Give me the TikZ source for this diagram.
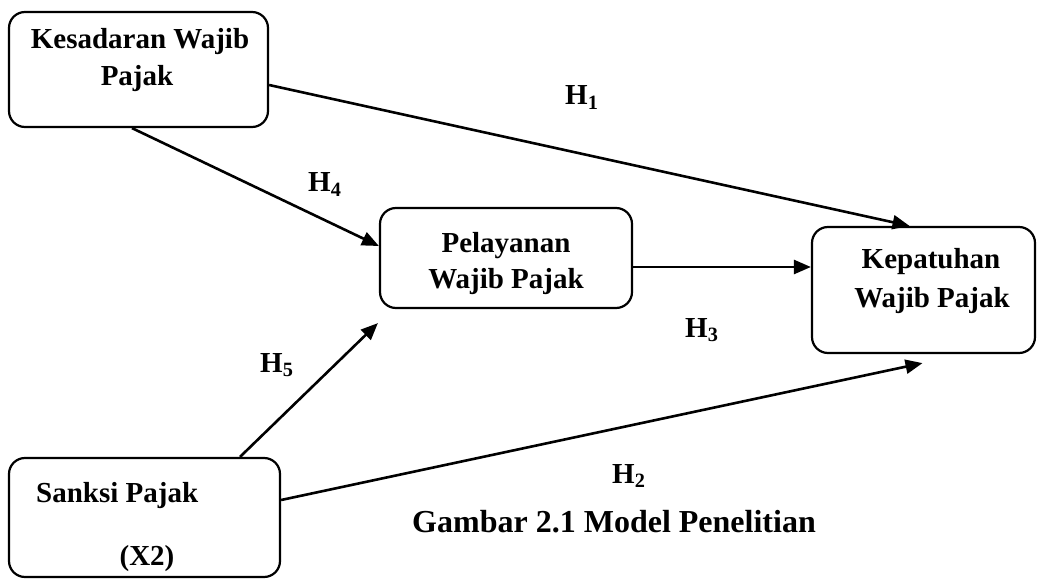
\documentclass[tikz,border=0pt]{standalone}
\usepackage{fontspec}
\setmainfont{Liberation Serif}
\usetikzlibrary{arrows.meta}
\begin{document}
\begin{tikzpicture}[x=1pt,y=-1pt,
  box/.style={draw, line width=2.2pt, rounded corners=16pt, inner sep=0pt},
  txt/.style={font=\fontsize{29}{33}\selectfont\bfseries, inner sep=0pt, anchor=base},
  hlab/.style={font=\fontsize{29}{33}\selectfont\bfseries, inner sep=0pt, anchor=base west},
  captiontext/.style={font=\fontsize{32}{36}\selectfont\bfseries, inner sep=0pt, anchor=base},
  arr/.style={line width=2.6pt, -{Triangle[length=17pt,width=14pt]}}]
\useasboundingbox (0,0) rectangle (1038,580);
% boxes
\node[box, minimum width=259pt, minimum height=115pt] (kes) at (138.5,69.5) {};
\node[box, minimum width=252pt, minimum height=100pt] (pel) at (506,258) {};
\node[box, minimum width=223pt, minimum height=126pt] (kep) at (923.5,290) {};
\node[box, minimum width=271pt, minimum height=119pt] (san) at (144.5,517.5) {};
% box texts
\node[txt] (kesA) at (140,49) {Kesadaran Wajib};
\node[txt] (kesB) at (137,86) {Pajak};
\node[txt] (pelA) at (506,252) {Pelayanan};
\node[txt] (pelB) at (506,288) {Wajib Pajak};
\node[txt] (kepA) at (931,268) {Kepatuhan};
\node[txt] (kepB) at (932,307) {Wajib Pajak};
\node[txt, anchor=base west] (sanA) at (36,502) {Sanksi Pajak};
\node[txt] (sanB) at (147,565) {(X2)};
% hypothesis labels
\node[hlab] (h1) at (565,105) {H\textsubscript{1}};
\node[hlab] (h4) at (308,192) {H\textsubscript{4}};
\node[hlab] (h3) at (685,337) {H\textsubscript{3}};
\node[hlab] (h5) at (260,372) {H\textsubscript{5}};
\node[hlab] (h2) at (612,483) {H\textsubscript{2}};
% caption
\node[captiontext] (caption) at (614,532) {Gambar 2.1 Model Penelitian};
% arrows
\draw[arr] ([yshift=-15.5pt]kes.east) -- ([xshift=-14pt]kep.north);
\draw[arr] ([xshift=-6.5pt]kes.south) -- ([yshift=12pt]pel.west);
\draw[arr] ([yshift=-9pt]pel.east) -- ([yshift=23pt]kep.west);
\draw[arr] ([xshift=95.5pt]san.north) -- ([shift={(-1pt,-14pt)}]pel.south west);
\draw[arr] ([yshift=17.5pt]san.east) -- ([shift={(-1pt,-9pt)}]kep.south);
\end{tikzpicture}
\end{document}
